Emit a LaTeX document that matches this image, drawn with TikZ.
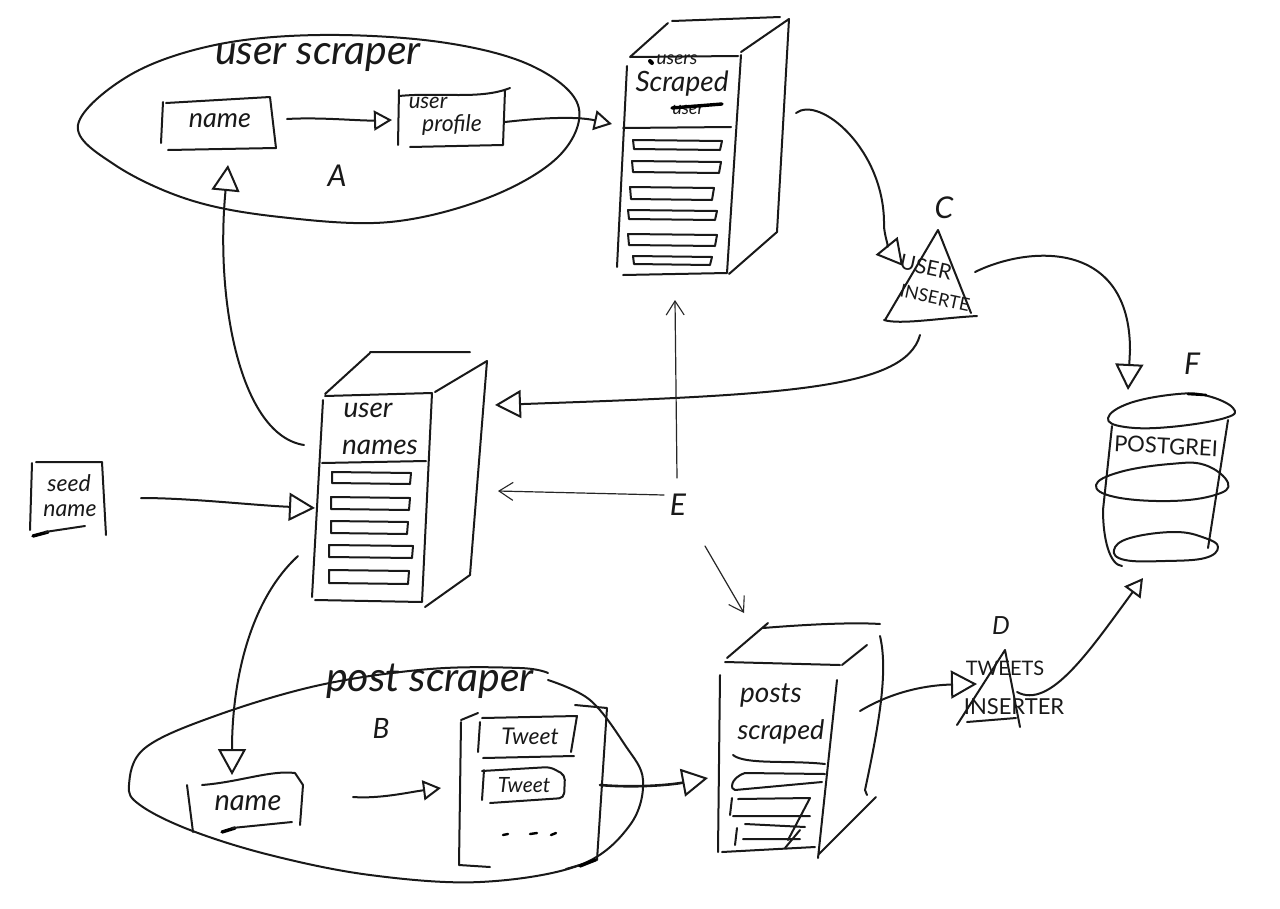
\documentclass[tikz,border=0pt]{standalone}
\usepackage{fontspec}
\setmainfont{Lato}
\usetikzlibrary{arrows.meta}
\tikzset{
  pen/.style={line width=2pt,line cap=round,line join=round,black!90},
  thin pen/.style={line width=1.2pt,line cap=round,line join=round,black!85},
  heavy/.style={line width=3.4pt,line cap=round,black},
  conn/.style={pen,-{Triangle[open,length=26pt,width=28pt,line width=2pt]}},
  small conn/.style={pen,-{Triangle[open,length=18pt,width=20pt,line width=2pt]}},
  thin conn/.style={thin pen,-{Straight Barb[length=14pt,width=18pt,line width=1.1pt]}},
  hand/.style={font=\itshape\fontsize{#1}{#1}\selectfont,inner sep=0pt,black!90,anchor=center},
  hand/.default=26pt,
  upper/.style={font=\fontsize{#1}{#1}\selectfont,inner sep=0pt,black!90,anchor=center},
  upper/.default=21pt
}
\begin{document}
\begin{tikzpicture}[x=1pt,y=-1pt]
\useasboundingbox (0,0) rectangle (1280,908);
\fill[white] (0,0) rectangle (1280,908);

% ---------- user scraper oval
\draw[pen] plot[smooth cycle,tension=.6] coordinates {(78,125) (130,75) (215,45) (320,35) (440,42) (530,65) (578,105) (560,155) (490,197) (390,222) (280,217) (190,200) (115,165)};
\node[hand=41pt] (scrA) at (318,57) {user scraper};
\node[hand=30pt] (lblA) at (337,176) {A};
\draw[pen] (163,102) -- (161,143) (166,103) -- (270,97) -- (276,148) -- (168,150);
\node[hand=27pt] (nameA) at (220,121) {name};
\draw[pen] (399,90) -- (398,145) (399,96) .. controls (440,92) and (480,100) .. (510,88) (505,90) -- (503,145) -- (410,147);
\node[hand=22pt] (userp) at (428,103) {user};
\node[hand=23pt] (profile) at (452,125) {profile};

% ---------- users scraped server
\draw[pen] (630,57) -- (738,56) (630,57) -- (668,23) (672,21) -- (780,17) (741,52) -- (789,19) -- (777,232) -- (729,274) (741,55) -- (727,273) -- (623,275) (627,66) -- (617,267) (623,128) -- (731,127);
\foreach \ya/\yb/\xa/\xb in {140/150/633/722,161/173/632/721,187/200/630/714,210/220/628/717,234/246/628/717,256/265/633/712}{
  \draw[pen] (\xa,\ya) -- (\xb,\ya+1) -- (\xb-2,\yb) -- (\xa+1,\yb-1) -- cycle;
}
\node[hand=19pt] (usersw) at (677,60) {users};
\node[hand=28pt] (scraped1) at (682,84) {Scraped};
\node[hand=18pt] (userst) at (688,110) {user};
\draw[heavy] (672,108) -- (722,104);
\draw[line width=4pt,black,line cap=round] (650,61) -- (652,63);

% ---------- user names server
\draw[pen] (325,396) -- (432,393) (325,394) -- (370,353) (370,352) -- (470,352) (435,392) -- (487,361) -- (470,575) -- (425,607) (432,393) -- (422,602) -- (315,600) (323,400) -- (312,597) (322,463) -- (426,461);
\foreach \ya/\yb/\xa/\xb in {472/484/332/411,497/510/331/410,521/534/331/408,545/558/329/413,570/584/329/409}{
  \draw[pen] (\xa,\ya) -- (\xb,\ya+1) -- (\xb-1,\yb) -- (\xa,\yb-1) -- cycle;
}
\node[hand=28pt] (user2) at (368,410) {user};
\node[hand=28pt] (names) at (380,447) {names};

% ---------- seed name
\draw[pen] (32,463) -- (30,530) (36,462) -- (102,462) -- (106,535);
\draw[heavy] (33,536) -- (48,532);
\draw[pen] (45,532) -- (85,526);
\node[hand=23pt] (seed) at (69,483) {seed};
\node[hand=23pt] (sname) at (70,511) {name};

% ---------- post scraper oval
\draw[pen] plot[smooth,tension=.6] coordinates {(548,680) (590,700) (625,745) (643,780) (630,825) (580,865) (480,882) (370,875) (270,855) (190,830) (140,805) (129,785) (145,748) (215,716) (320,685) (430,669) (520,668) (548,673)};
\node[hand=41pt] (scrB) at (430,681) {post scraper};
\node[hand=28pt] (lblB) at (381,728) {B};
\draw[pen] (187,785) -- (193,832) (202,785) .. controls (240,782) and (270,770) .. (295,773) -- (303,785) -- (300,825);
\draw[heavy] (222,832) -- (235,828);
\draw[pen] (232,828) -- (292,822);
\node[hand=29pt] (nameB) at (248,803) {name};

% tweet panel
\draw[pen] (461,720) -- (478,713) (461,722) -- (459,865) -- (490,867) (575,705) -- (607,708) -- (597,860) -- (566,869);
\draw[heavy] (580,866) -- (595,860);
\draw[pen] (480,722) -- (478,752) (482,718) -- (577,716) -- (571,752) (483,758) -- (574,756);
\draw[pen,rounded corners=5pt] (484,770) -- (482,800) (482,771) -- (550,767) -- (565,775) -- (564,798) -- (490,803);
\node[hand=23pt] (tw1) at (530,736) {Tweet};
\node[hand=21pt] (tw2) at (524,785) {Tweet};
\draw[heavy,line width=2.4pt] (503,835) -- (508,834) (530,834) -- (537,833) (551,835) -- (556,833);

% ---------- posts scraped server
\draw[pen] (725,662) -- (840,665) (727,658) -- (768,623) (763,628) .. controls (800,625) and (850,622) .. (880,624) (880,636) .. controls (888,670) and (880,720) .. (865,790) -- (867,795) (842,665) -- (867,645) (818,855) -- (876,797) (720,675) -- (718,852) (722,852) -- (815,847) (837,680) -- (818,858);
\draw[pen] (733,755) .. controls (745,765) and (790,760) .. (825,764) (825,774) -- (745,773) .. controls (730,778) and (730,790) .. (735,790) -- (822,782);
\draw[pen] (732,798) -- (730,815) (738,799) -- (810,798) -- (788,840) (733,816) -- (810,816) (737,828) -- (735,845) (745,824) -- (805,827) (743,839) -- (800,839) (785,848) -- (800,830);
\node[hand=28pt] (posts) at (771,695) {posts};
\node[hand=27pt] (scraped2) at (781,732) {scraped};

% ---------- C triangle
\draw[pen] (938,230) -- (885,320) (938,230) -- (971,313) (884,320) .. controls (900,325) and (940,318) .. (977,316);
\node[hand=30pt] (lblC) at (944,208) {C};
\node[upper=21pt,rotate=-12] (userC) at (926,267) {USER};
\node[upper=18pt,rotate=-12] (insC) at (935,298) {INSERTE};

% ---------- D triangle
\draw[pen] (1005,650) -- (957,725) (1005,650) -- (1020,727) (967,722) -- (1016,718);
\node[hand=25pt] (lblD) at (1001,626) {D};
\node[upper=20pt] (twD) at (1005,668) {TWEETS};
\node[upper=22pt] (insD) at (1014,707) {INSERTER};

% ---------- Postgres cylinder
\draw[pen] plot[smooth cycle,tension=.7] coordinates {(1108,418) (1130,403) (1178,394) (1208,396) (1233,408) (1225,418) (1170,427) (1125,427)};
\draw[heavy,line width=2.6pt] (1188,394) -- (1206,395);
\draw[pen] (1112,426) -- (1103,510) .. controls (1103,540) and (1110,565) .. (1122,566) (1228,420) -- (1208,548);
\draw[pen] plot[smooth cycle,tension=.7] coordinates {(1096,485) (1120,472) (1170,464) (1205,465) (1228,483) (1215,495) (1170,501) (1115,497)};
\draw[pen] plot[smooth cycle,tension=.7] coordinates {(1114,550) (1130,538) (1175,532) (1205,538) (1218,547) (1205,558) (1165,561) (1125,560)};
\node[hand=30pt] (lblF) at (1192,364) {F};
\node[upper=22pt,rotate=-3] (pg) at (1166,446) {POSTGREI};

% ---------- E
\node[hand=30pt] (lblE) at (678,505) {E};

% ---------- connectors
\coordinate (a1) at (287,119); \coordinate (a2) at (392,120);
\draw[small conn] (a1) .. controls (320,117) and (360,121) .. (a2);
\coordinate (b1) at (505,122); \coordinate (b2) at (612,124);
\draw[small conn] (b1) .. controls (540,118) and (575,116) .. (b2);
\coordinate (c1) at (796,113); \coordinate (c2) at (903,266);
\draw[conn] (c1) .. controls (820,95) and (885,150) .. (884,225) .. controls (884,235) and (890,250) .. (c2);
\coordinate (d1) at (975,272); \coordinate (d2) at (1128,390);
\draw[conn] (d1) .. controls (1030,245) and (1130,240) .. (1130,350) -- (d2);
\coordinate (e1) at (920,335); \coordinate (e2) at (495,405);
\draw[conn] (e1) .. controls (905,390) and (780,395) .. (e2);
\coordinate (f1) at (304,445); \coordinate (f2) at (228,165);
\draw[conn] (f1) .. controls (240,435) and (215,300) .. (f2);
\coordinate (g1) at (141,498); \coordinate (g2) at (315,508);
\draw[conn] (g1) .. controls (190,498) and (250,505) .. (g2);
\coordinate (h1) at (298,556); \coordinate (h2) at (232,775);
\draw[conn] (h1) .. controls (250,600) and (232,680) .. (h2);
\coordinate (i1) at (353,797); \coordinate (i2) at (441,788);
\draw[small conn] (i1) .. controls (380,799) and (410,792) .. (i2);
\coordinate (j1) at (600,785); \coordinate (j2) at (708,778);
\draw[conn,line width=2.6pt] (j1) .. controls (635,788) and (670,785) .. (j2);
\coordinate (k1) at (860,711); \coordinate (k2) at (977,684);
\draw[conn] (k1) .. controls (895,690) and (930,685) .. (k2);
\coordinate (l1) at (1017,692); \coordinate (l2) at (1143,578);
\draw[small conn] (l1) .. controls (1050,710) and (1090,650) .. (l2);
\coordinate (m1) at (677,478); \coordinate (m2) at (675,300);
\draw[thin conn] (m1) -- (m2);
\coordinate (n1) at (664,495); \coordinate (n2) at (498,491);
\draw[thin conn] (n1) -- (n2);
\coordinate (o1) at (705,546); \coordinate (o2) at (744,613);
\draw[thin conn] (o1) -- (o2);
\end{tikzpicture}
\end{document}
